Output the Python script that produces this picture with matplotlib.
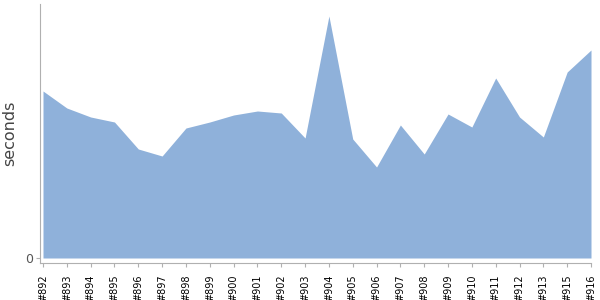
import numpy as np
import matplotlib
matplotlib.use('Agg')
import matplotlib.pyplot as plt

# Builds (x labels) and duration values
builds = ['#892', '#893', '#894', '#895', '#896', '#897', '#898', '#899',
          '#900', '#901', '#902', '#903', '#904', '#905', '#906', '#907',
          '#908', '#909', '#910', '#911', '#912', '#913', '#915', '#916']
seconds = [167, 150, 141, 136, 109, 102, 130, 136,
           143, 147, 145, 120, 242, 119, 91, 133,
           104, 144, 131, 180, 141, 121, 186, 208]

fill_color = '#8fb1da'
axis_color = '#b0b0b0'

fig = plt.figure(figsize=(6, 3), dpi=100)
ax = fig.add_axes([40 / 600, 1 - 263 / 300, 551 / 600, 259 / 300])

x = np.arange(len(builds))
ax.fill_between(x, 0, seconds, color=fill_color, linewidth=0)

ax.set_xlim(-3 / 23.83, len(builds) - 1)
ax.set_ylim(-5, 254)

ax.set_xticks(x)
ax.set_xticklabels(builds, rotation=90, fontsize=7, color='black')
ax.set_yticks([0])
ax.set_yticklabels(['0'], fontsize=9, color='#555555')
ax.tick_params(axis='x', length=3, width=0.8, color=axis_color, pad=5)
ax.tick_params(axis='y', length=3, width=0.8, color=axis_color, pad=2)

for side in ['top', 'right']:
    ax.spines[side].set_visible(False)
for side in ['left', 'bottom']:
    ax.spines[side].set_color(axis_color)
    ax.spines[side].set_linewidth(0.8)

ax.set_ylabel('seconds', fontsize=11.5, color='#444444', labelpad=6)

fig.savefig('out.png', dpi=100)
plt.close(fig)
